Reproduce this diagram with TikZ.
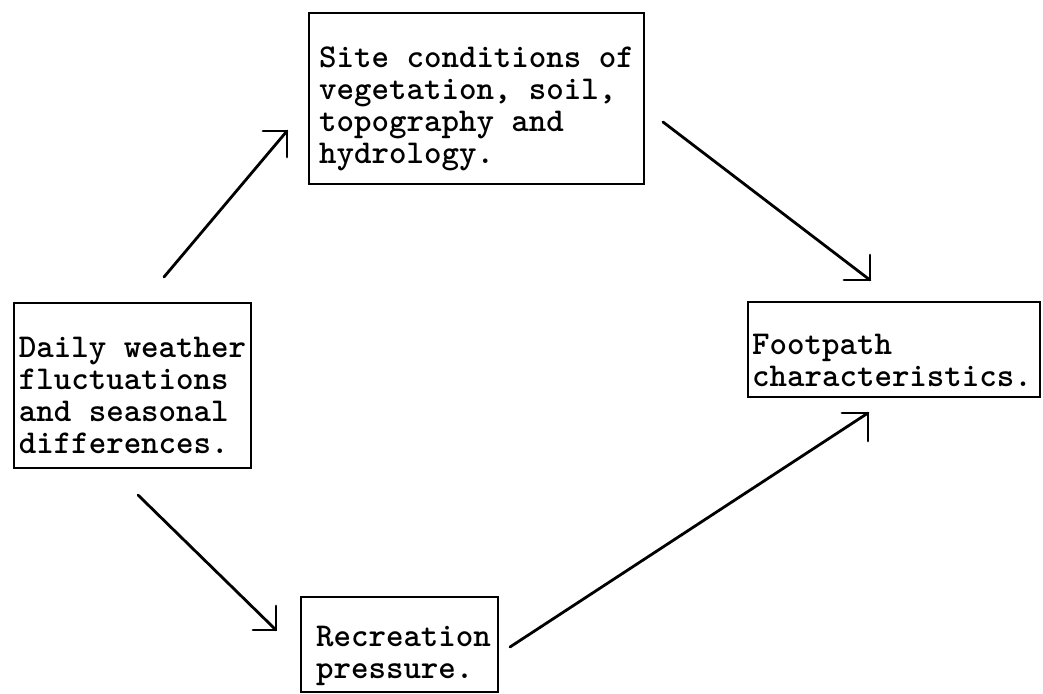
\documentclass[tikz,border=0pt]{standalone}
\usetikzlibrary{calc}
\tikzset{
  boxshape/.style={draw, line width=2pt, inner sep=0pt, anchor=north west},
  boxtext/.style={align=left, inner sep=0pt, font=\ttfamily\bfseries\fontsize{33.3}{32}\selectfont},
  conn/.style={line width=2.8pt, line cap=round, line join=miter},
}
\begin{document}
\begin{tikzpicture}[x=1pt,y=-1pt]
\useasboundingbox (0,0) rectangle (1043,693);
% boxes
\node[boxshape, minimum width=335pt, minimum height=171pt] (site) at (308,12) {};
\node[boxshape, minimum width=237pt, minimum height=165pt] (daily) at (13,302) {};
\node[boxshape, minimum width=292pt, minimum height=95pt] (foot) at (747,301) {};
\node[boxshape, minimum width=197pt, minimum height=95pt] (rec) at (300,596) {};
% texts
\node[boxtext] (siteT) at ($(site.center)+(0,10)$) {Site conditions of\\vegetation, soil,\\topography and\\hydrology.};
\node[boxtext] (dailyT) at ($(daily.center)+(0,10)$) {Daily weather\\fluctuations\\and seasonal\\differences.};
\node[boxtext] (footT) at ($(foot.center)+(-2,11)$) {Footpath\\characteristics.};
\node[boxtext] (recT) at ($(rec.center)+(4,11)$) {Recreation\\pressure.};
% connector ends
\coordinate (a1s) at (164,277); \coordinate (a1e) at (287,131);
\coordinate (a2s) at (663,122); \coordinate (a2e) at (870,280);
\coordinate (a3s) at (138,495); \coordinate (a3e) at (276,630);
\coordinate (a4s) at (510,647); \coordinate (a4e) at (868,413);
% connectors
\draw[conn] (a1s) -- (a1e);
\draw[conn] ($(a1e)+(-24,0)$) -- (a1e) -- ($(a1e)+(0,26)$);
\draw[conn] (a2s) -- (a2e);
\draw[conn] ($(a2e)+(-26,0)$) -- (a2e) -- ($(a2e)+(0,-25)$);
\draw[conn] (a3s) -- (a3e);
\draw[conn] ($(a3e)+(-23,0)$) -- (a3e) -- ($(a3e)+(0,-24)$);
\draw[conn] (a4s) -- (a4e);
\draw[conn] ($(a4e)+(-26,0)$) -- (a4e) -- ($(a4e)+(0,28)$);
\end{tikzpicture}
\end{document}
